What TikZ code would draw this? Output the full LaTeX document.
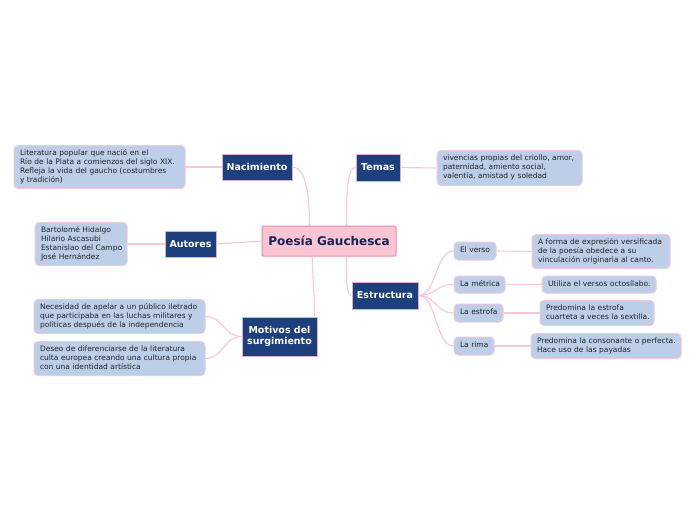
\documentclass[tikz,border=0pt]{standalone}
\usepackage{fontspec}
\setmainfont{DejaVu Sans}
\usetikzlibrary{calc}
\definecolor{leaff}{HTML}{BDCEE9}
\definecolor{leafb}{HTML}{F2C9D8}
\definecolor{topf}{HTML}{1D3F7C}
\definecolor{topb}{HTML}{D9B0C8}
\definecolor{cenf}{HTML}{F9C5D3}
\definecolor{cenb}{HTML}{E88AB0}
\definecolor{cent}{HTML}{14235A}
\definecolor{linkc}{HTML}{F8C6D5}
\definecolor{txt}{HTML}{222222}
\newcommand\ml[1]{\begin{tabular}{@{}l@{}}#1\end{tabular}}
\tikzset{
 leaf/.style={draw=leafb, fill=leaff, rounded corners=4pt, line width=1pt,
   font=\fontsize{7.5}{9}\selectfont, align=left, inner xsep=6pt, inner ysep=2pt, text=txt},
 topic/.style={draw=topb, fill=topf, line width=1pt,
   font=\bfseries\fontsize{9.5}{11.5}\selectfont, text=white, align=center, inner sep=0pt},
 centre/.style={draw=cenb, fill=cenf, line width=1pt, rounded corners=1pt,
   font=\bfseries\fontsize{12}{14}\selectfont, text=cent, inner sep=0pt},
 link/.style={draw=linkc, line width=1.1pt}
}
\begin{document}
\begin{tikzpicture}[x=1pt,y=-1pt]
\useasboundingbox[fill=white] (0,0) rectangle (696,520);
% main nodes
\node[centre, minimum width=134, minimum height=30] (central) at (329,241) {Poesía Gauchesca};
\node[topic, minimum width=70, minimum height=26] (nac) at (257,167) {Nacimiento};
\node[topic, minimum width=44, minimum height=27] (temas) at (378,167.5) {Temas};
\node[topic, minimum width=51, minimum height=26] (autores) at (190.5,244) {Autores};
\node[topic, minimum width=66, minimum height=27] (estr) at (385,295.5) {Estructura};
\node[topic, minimum width=75, minimum height=39] (motivos) at (279.5,336.5) {Motivos del\\surgimiento};
% leaves
\node[leaf, text width=159, minimum height=43] (nacL) at (99.5,167) {\ml{Literatura popular que nació en el\\Río de la Plata a comienzos del siglo XIX.\\Refleja la vida del gaucho (costumbres\\y tradición)}};
\node[leaf, text width=80, minimum height=43] (autL) at (81,244) {\ml{Bartolomé Hidalgo\\Hilario Ascasubi\\Estanislao del Campo\\José Hernández}};
\node[leaf, text width=159, minimum height=34] (mot1) at (119.5,316.5) {\ml{Necesidad de apelar a un público iletrado\\que participaba en las luchas militares y\\políticas después de la independencia}};
\node[leaf, text width=159, minimum height=34] (mot2) at (119.5,358.5) {\ml{Deseo de diferenciarse de la literatura\\culta europea creando una cultura propia\\con una identidad artística}};
\node[leaf, text width=133, minimum height=35] (temL) at (509.5,168) {\ml{vivencias propias del criollo, amor,\\paternidad, amiento social,\\valentía, amistad y soledad}};
\node[leaf, text width=30, minimum height=18] (verso) at (475,251) {\ml{El verso}};
\node[leaf, text width=39, minimum height=17] (metrica) at (479.5,284.5) {\ml{La métrica}};
\node[leaf, text width=37, minimum height=18] (estrofa) at (478.5,313) {\ml{La estrofa}};
\node[leaf, text width=28, minimum height=18] (rima) at (474,346) {\ml{La rima}};
\node[leaf, text width=126, minimum height=34] (versoL) at (601,251.5) {\ml{A forma de expresión versificada\\de la poesía obedece a su\\vinculación originaria al canto.}};
\node[leaf, text width=102, minimum height=17] (metL) at (599,284.5) {\ml{Utiliza el versos octosílabo.}};
\node[leaf, text width=102, minimum height=25] (estrL) at (597,313) {\ml{Predomina la estrofa\\cuarteta a veces la sextilla.}};
\node[leaf, text width=138, minimum height=25] (rimaL) at (606,346) {\ml{Predomina la consonante o perfecta.\\Hace uso de las payadas}};
% connectors from centre
\draw[link] (nac.east) .. controls +(12,0) and +(0,-35) .. ($(central.north west)+(48,0)$);
\draw[link] ($(central.north west)+(85,0)$) .. controls +(0,-35) and +(-8,0) .. (temas.west);
\draw[link] (autores.east) -- (central.west);
\draw[link] ($(central.south west)+(85,0)$) .. controls +(0,25) and +(-5,0) .. (estr.west);
\draw[link] ($(central.south west)+(51,0)$) .. controls +(0,25) and +(0,-25) .. ($(motivos.north east)+(-3,0)$);
% topic to leaves
\draw[link] (nacL.east) -- (nac.west);
\draw[link] (autL.east) -- (autores.west);
\draw[link] (temas.east) -- (temL.west);
\draw[link] (motivos.west) .. controls +(-18,0) and +(18,0) .. (mot1.east);
\draw[link] (motivos.west) .. controls +(-18,0) and +(18,0) .. (mot2.east);
\draw[link] (estr.east) .. controls +(18,0) and +(-18,0) .. (verso.west);
\draw[link] (estr.east) .. controls +(18,0) and +(-18,0) .. (metrica.west);
\draw[link] (estr.east) .. controls +(18,0) and +(-18,0) .. (estrofa.west);
\draw[link] (estr.east) .. controls +(18,0) and +(-18,0) .. (rima.west);
\draw[link] (verso.east) -- (versoL.west);
\draw[link] (metrica.east) -- (metL.west);
\draw[link] (estrofa.east) -- (estrL.west);
\draw[link] (rima.east) -- (rimaL.west);
\end{tikzpicture}
\end{document}
